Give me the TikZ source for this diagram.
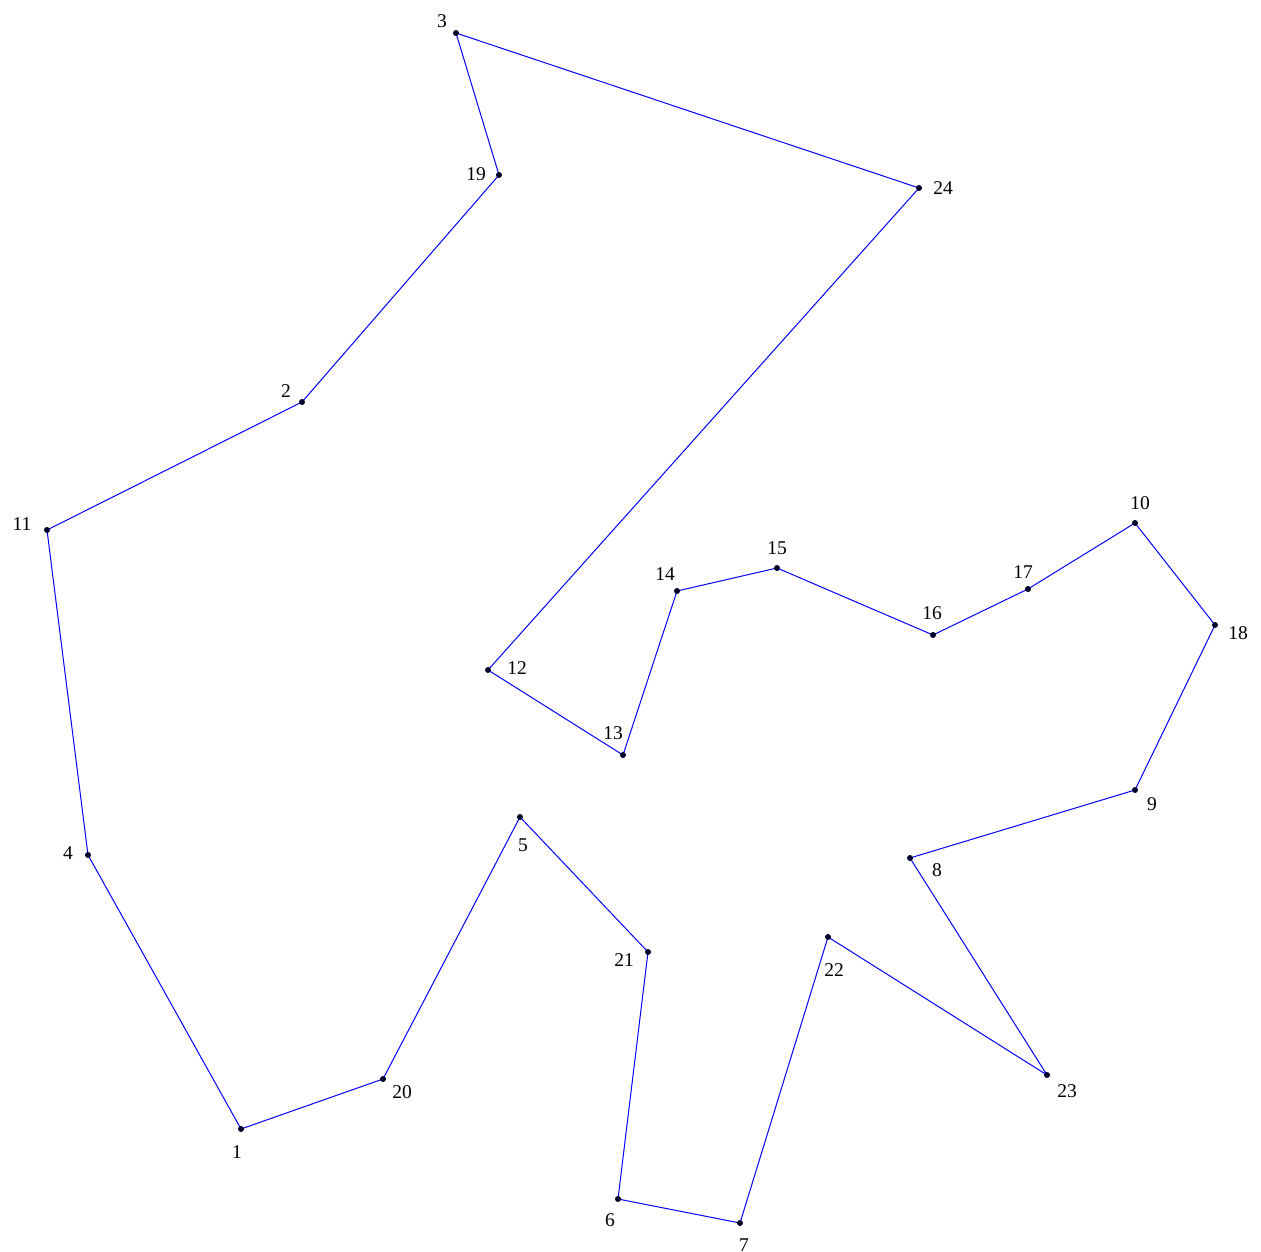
\documentclass[tikz,border=0pt]{standalone}
\usepackage{fontspec}
\setmainfont{Liberation Serif}
\begin{document}
\begin{tikzpicture}[x=1pt,y=-1pt,
  pt/.style={circle,fill=black!85!blue,inner sep=0pt,minimum size=6pt},
  lbl/.style={font=\fontsize{19.5}{19.5}\selectfont,inner sep=0pt},
  edge/.style={blue,line width=1pt}]
\useasboundingbox (0,0) rectangle (1261,1252);
\foreach \n/\x/\y in {1/241/1129,2/302/402,3/456/33,4/88/855,5/520/817,6/618/1199,7/740/1223,8/910/858,9/1135/790,10/1135/523,11/47/530,12/488/670,13/623/755,14/677/591,15/777/568,16/933/635,17/1028/589,18/1215/625,19/499/175,20/383/1079,21/648/952,22/828/937,23/1047/1075,24/919/188}
  {\coordinate (p\n) at (\x,\y);}
\draw[edge] (p1)--(p20)--(p5)--(p21)--(p6)--(p7)--(p22)--(p23)--(p8)--(p9)--(p18)--(p10)--(p17)--(p16)--(p15)--(p14)--(p13)--(p12)--(p24)--(p3)--(p19)--(p2)--(p11)--(p4)--cycle;
\foreach \n in {1,...,24} {\node[pt] (d\n) at (p\n) {};}
\foreach \n/\x/\y in {1/237/1152,2/286/391,3/442/21,4/68/853,5/523/845,6/610/1220,7/744/1245,8/937/870,9/1152/804,10/1140/503,11/22/524,12/517/668,13/613/733,14/665/574,15/777/548,16/932/613,17/1023/572,18/1238/633,19/476/174,20/402/1092,21/624/960,22/834/970,23/1067/1091,24/943/188}
  {\node[lbl] (l\n) at (\x,\y) {\n};}
\end{tikzpicture}
\end{document}
